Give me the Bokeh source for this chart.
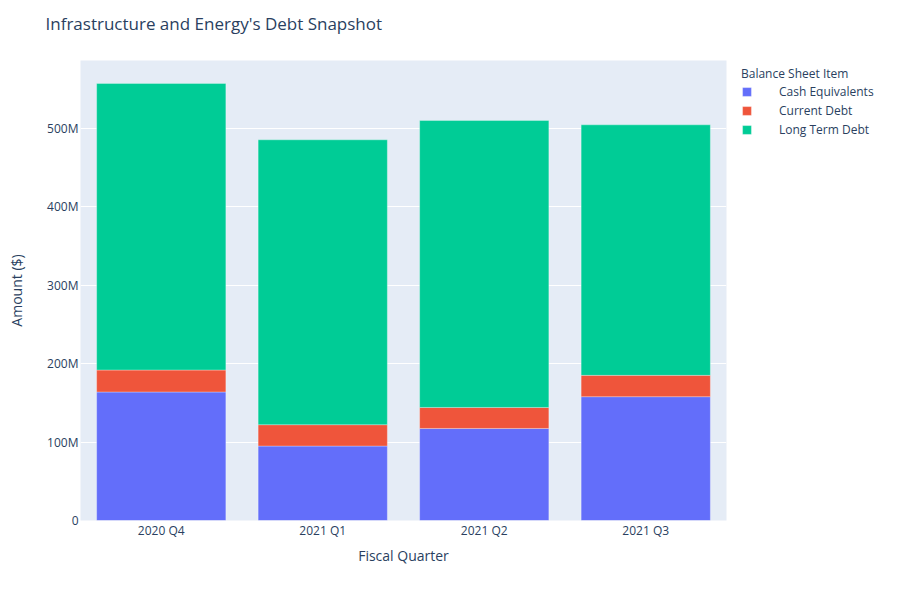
from bokeh.plotting import figure
from bokeh.models import Legend, LegendItem, FixedTicker, Range1d, FactorRange, Title
from bokeh.embed import file_html
from bokeh.resources import INLINE

quarters = ["2020 Q4", "2021 Q1", "2021 Q2", "2021 Q3"]
cash_equivalents = [163.8, 94.9, 117.3, 157.8]   # $M
current_debt = [28.0, 27.2, 26.8, 27.2]          # $M
long_term_debt = [365.2, 363.1, 365.7, 319.3]    # $M
series_names = ["Cash Equivalents", "Current Debt", "Long Term Debt"]
colors = ["#636efa", "#EF553B", "#00cc96"]
y_ticks = [0, 100, 200, 300, 400, 500]
y_tick_labels = ["0", "100M", "200M", "300M", "400M", "500M"]

FONT = "Open Sans"
TXT = "#2a3f5f"

data = {"quarter": quarters, "cash": cash_equivalents, "current": current_debt, "long": long_term_debt}
totals = [a + b + c for a, b, c in zip(cash_equivalents, current_debt, long_term_debt)]

p = figure(x_range=FactorRange(*quarters), y_range=Range1d(0, max(totals) * 1.0526),
           frame_width=646, frame_height=460, output_backend="svg", toolbar_location=None,
           min_border_left=80, min_border_top=60, min_border_right=158, min_border_bottom=64)
p.width = 884
p.height = 584

renderers = p.vbar_stack(["cash", "current", "long"], x="quarter", width=0.8, source=data,
                         color=colors, line_color="white", line_width=0.5, line_alpha=0.6)

p.background_fill_color = "#e5ecf6"
p.border_fill_color = "white"
p.outline_line_color = None
p.xgrid.grid_line_color = None
p.ygrid.grid_line_color = "white"
p.ygrid.grid_line_width = 1

p.yaxis.ticker = FixedTicker(ticks=y_ticks)
p.yaxis.major_label_overrides = {t: l for t, l in zip(y_ticks, y_tick_labels)}
for ax in (p.xaxis, p.yaxis):
    ax.axis_line_color = None
    ax.major_tick_line_color = None
    ax.minor_tick_line_color = None
    ax.major_tick_out = 0
    ax.major_tick_in = 0
    ax.major_label_text_font = FONT
    ax.major_label_text_font_size = "12px"
    ax.major_label_text_color = TXT
    ax.axis_label_text_font = FONT
    ax.axis_label_text_font_size = "14px"
    ax.axis_label_text_color = TXT
    ax.axis_label_text_font_style = "normal"
p.yaxis.major_label_standoff = 2
p.xaxis.major_label_standoff = 1
p.yaxis.axis_label = "Amount ($)"
p.xaxis.axis_label = "Fiscal Quarter"
p.yaxis.axis_label_standoff = 18
p.xaxis.axis_label_standoff = 4

p.title.text = "Infrastructure and Energy's Debt Snapshot"
p.title.text_font = FONT
p.title.text_font_size = "17px"
p.title.text_color = TXT
p.title.text_font_style = "normal"
p.title.offset = -35
p.title.standoff = 0

spacer = Title(text=" ", text_font_size="14px", standoff=8, text_color="white")
p.add_layout(spacer, "above")

legend = Legend(items=[LegendItem(label=n, renderers=[r]) for n, r in zip(series_names, renderers)],
                title="Balance Sheet Item", location=(15, 381))
legend.title_text_font = FONT
legend.title_text_font_size = "12px"
legend.title_text_color = TXT
legend.title_text_font_style = "normal"
legend.title_standoff = 0
legend.label_text_font = FONT
legend.label_text_font_size = "12px"
legend.label_text_color = TXT
legend.glyph_width = 11
legend.glyph_height = 11
legend.spacing = 0
legend.label_height = 19
legend.label_standoff = 27
legend.padding = 0
legend.margin = 0
legend.border_line_color = None
legend.background_fill_alpha = 0
p.add_layout(legend, "right")

open("out.html", "w").write(file_html(p, INLINE))
